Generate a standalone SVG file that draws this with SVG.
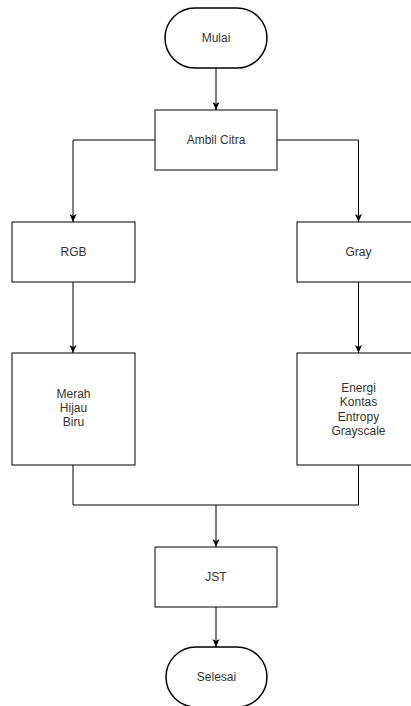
<svg xmlns="http://www.w3.org/2000/svg" width="411" height="706" viewBox="0 0 411 706">
<style>
.box{fill:#fff;stroke:#000;stroke-width:1}
.term{fill:#fff;stroke:#000;stroke-width:1.5}
.lbl{font-family:"Liberation Sans",Arial,sans-serif;font-size:12px;fill:#333;text-anchor:middle;dominant-baseline:central}
.edge{fill:none;stroke:#000;stroke-width:1}
</style>
<defs>
<marker id="arr" viewBox="0 0 8 8" refX="8" refY="4" markerWidth="8" markerHeight="8" markerUnits="userSpaceOnUse" orient="auto">
<path d="M0,0.5 L8,4 L0,7.5 L2,4 Z" fill="#000"/>
</marker>
</defs>
<rect width="411" height="706" fill="#fff"/>
<g id="connectors">
<path class="edge" d="M216,68 L216,110" marker-end="url(#arr)"/>
<path class="edge" d="M155,140 L73,140 L73,222" marker-end="url(#arr)"/>
<path class="edge" d="M277,140 L358.5,140 L358.5,222" marker-end="url(#arr)"/>
<path class="edge" d="M73,282 L73,353" marker-end="url(#arr)"/>
<path class="edge" d="M358.5,282 L358.5,353" marker-end="url(#arr)"/>
<path class="edge" d="M73,465 L73,505 L358.5,505 L358.5,465"/>
<path class="edge" d="M216,505 L216,547" marker-end="url(#arr)"/>
<path class="edge" d="M216,607 L216,647" marker-end="url(#arr)"/>
</g>
<g id="mulai">
<rect class="term" x="165" y="8" width="102" height="60" rx="30" ry="30"/>
<text class="lbl" x="216" y="38">Mulai</text>
</g>
<g id="ambil-citra">
<rect class="box" x="155" y="110" width="122" height="60"/>
<text class="lbl" x="216" y="140">Ambil Citra</text>
</g>
<g id="rgb">
<rect class="box" x="12" y="222" width="123" height="60"/>
<text class="lbl" x="73.5" y="252">RGB</text>
</g>
<g id="gray">
<rect class="box" x="297" y="222" width="123" height="60"/>
<text class="lbl" x="358.5" y="252">Gray</text>
</g>
<g id="merah-hijau-biru">
<rect class="box" x="12" y="353" width="123" height="112"/>
<text class="lbl" x="73.5" y="394">Merah</text>
<text class="lbl" x="73.5" y="408">Hijau</text>
<text class="lbl" x="73.5" y="422">Biru</text>
</g>
<g id="energi">
<rect class="box" x="297" y="353" width="123" height="112"/>
<text class="lbl" x="358.5" y="388">Energi</text>
<text class="lbl" x="358.5" y="402">Kontas</text>
<text class="lbl" x="358.5" y="416.5">Entropy</text>
<text class="lbl" x="358.5" y="431">Grayscale</text>
</g>
<g id="jst">
<rect class="box" x="155" y="547" width="122" height="60"/>
<text class="lbl" x="216" y="577">JST</text>
</g>
<g id="selesai">
<rect class="term" x="166" y="647" width="101" height="60" rx="30" ry="30"/>
<text class="lbl" x="216.5" y="677">Selesai</text>
</g>
</svg>
